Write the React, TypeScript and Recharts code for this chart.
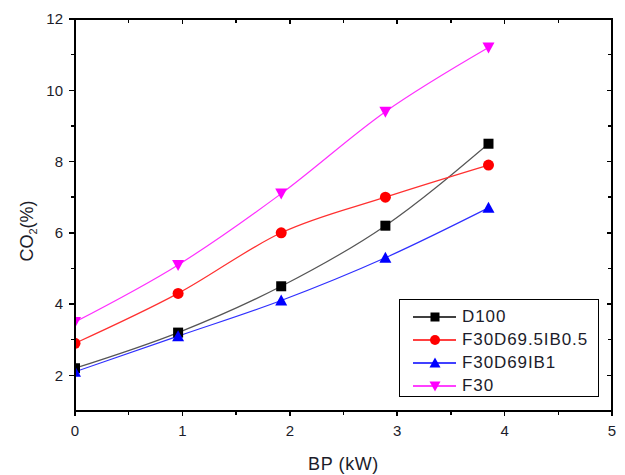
import React from "react";
import {
  LineChart,
  Line,
  XAxis,
  YAxis,
  Legend,
} from "recharts";

// BP (kW) for each measurement point
const bp = [0, 0.96, 1.92, 2.89, 3.85];

// CO2 (%) per fuel
const d100 = [2.2, 3.2, 4.5, 6.2, 8.5];
const f30d695ib05 = [2.9, 4.3, 6.0, 7.0, 7.9];
const f30d69ib1 = [2.1, 3.1, 4.1, 5.3, 6.7];
const f30 = [3.5, 5.1, 7.1, 9.4, 11.2];

const X_DOMAIN = [0, 5];
const Y_DOMAIN = [1, 12];
const xMajor = [0, 1, 2, 3, 4, 5];
const xMinor = [0.5, 1.5, 2.5, 3.5, 4.5];
const yMajor = [2, 4, 6, 8, 10, 12];
const yMinor = [3, 5, 7, 9, 11];

const W = 625;
const H = 475;
const MARGIN = { top: 19, right: 13, bottom: 0, left: 0 };
const X_AXIS_H = 64;
const Y_AXIS_W = 75;

const FONT = '"Liberation Sans", Arial, sans-serif';
const AXIS_COLOR = "#000";
const LABEL_COLOR = "#1c1c2a";

const data = bp.map((x, i) => ({
  bp: x,
  d100: d100[i],
  f30d695ib05: f30d695ib05[i],
  f30d69ib1: f30d69ib1[i],
  f30: f30[i],
}));

type Shape = "square" | "circle" | "triangle" | "triangleDown";

const SERIES: { key: string; name: string; color: string; line: string; shape: Shape }[] = [
  { key: "d100", name: "D100", color: "#000000", line: "#555555", shape: "square" },
  { key: "f30d695ib05", name: "F30D69.5IB0.5", color: "#ff0000", line: "#ff3030", shape: "circle" },
  { key: "f30d69ib1", name: "F30D69IB1", color: "#0000ff", line: "#3030ff", shape: "triangle" },
  { key: "f30", name: "F30", color: "#ff00ff", line: "#ff30ff", shape: "triangleDown" },
];

function Marker({ cx, cy, shape, color, size = 10 }: { cx: number; cy: number; shape: Shape; color: string; size?: number }) {
  const h = size / 2;
  if (shape === "square") {
    return <rect x={cx - h} y={cy - h} width={size} height={size} fill={color} />;
  }
  if (shape === "circle") {
    return <circle cx={cx} cy={cy} r={h + 0.5} fill={color} />;
  }
  if (shape === "triangle") {
    return (
      <polygon
        points={`${cx},${cy - h - 1} ${cx - h - 1},${cy + h} ${cx + h + 1},${cy + h}`}
        fill={color}
      />
    );
  }
  return (
    <polygon
      points={`${cx - h - 1},${cy - h} ${cx + h + 1},${cy - h} ${cx},${cy + h + 1}`}
      fill={color}
    />
  );
}

// plot box geometry, from the chart margins and axis sizes
const PLOT_X = MARGIN.left + Y_AXIS_W;
const PLOT_Y = MARGIN.top;
const PLOT_W = W - MARGIN.right - PLOT_X;
const PLOT_H = H - MARGIN.bottom - X_AXIS_H - PLOT_Y;

// Origin-style box with tick marks on all four sides, as plain HTML on top
function FrameOverlay() {
  const px = (v: number) => ((v - X_DOMAIN[0]) / (X_DOMAIN[1] - X_DOMAIN[0])) * PLOT_W;
  const py = (v: number) => PLOT_H - ((v - Y_DOMAIN[0]) / (Y_DOMAIN[1] - Y_DOMAIN[0])) * PLOT_H;
  const marks: React.ReactNode[] = [];
  const bar = (k: string, left: number, top: number, w: number, h: number) =>
    marks.push(
      <div
        key={k}
        style={{ position: "absolute", left, top, width: w, height: h, background: AXIS_COLOR }}
      />
    );
  xMajor.forEach((v) => {
    bar(`bM${v}`, px(v) - 0.75, PLOT_H, 1.5, 5);
    bar(`tM${v}`, px(v) - 0.75, 0, 1.5, 5);
  });
  xMinor.forEach((v) => {
    bar(`bm${v}`, px(v) - 0.75, PLOT_H, 1.5, 4);
    bar(`tm${v}`, px(v) - 0.75, 0, 1.5, 4);
  });
  yMajor.forEach((v) => {
    bar(`lM${v}`, -6, py(v) - 0.75, 6, 1.5);
    bar(`rM${v}`, PLOT_W - 5, py(v) - 0.75, 5, 1.5);
  });
  yMinor.forEach((v) => {
    bar(`lm${v}`, -4, py(v) - 0.75, 4, 1.5);
    bar(`rm${v}`, PLOT_W - 4, py(v) - 0.75, 4, 1.5);
  });
  return (
    <div
      style={{
        position: "absolute",
        left: PLOT_X,
        top: PLOT_Y,
        width: PLOT_W,
        height: PLOT_H,
        pointerEvents: "none",
        zIndex: 5,
      }}
    >
      <div
        style={{
          position: "absolute",
          left: -1,
          top: -1,
          width: PLOT_W + 2,
          height: PLOT_H + 2,
          boxSizing: "border-box",
          border: `2px solid ${AXIS_COLOR}`,
        }}
      />
      {marks}
    </div>
  );
}

function YTitle() {
  const cy = 231;
  return (
    <text
      x={33}
      y={cy}
      transform={`rotate(-90, 33, ${cy})`}
      textAnchor="middle"
      fontSize={18}
      fontFamily={FONT}
      fill={LABEL_COLOR}
    >
      CO
      <tspan fontSize={11} dy={4}>2</tspan>
      <tspan dy={-4}>(%)</tspan>
    </text>
  );
}

function XTitle({ viewBox }: any) {
  const cx = viewBox ? viewBox.x + viewBox.width / 2 : 343;
  return (
    <text x={cx} y={470} textAnchor="middle" fontSize={18} fontFamily={FONT} fill={LABEL_COLOR} letterSpacing={0.6}>
      BP (kW)
    </text>
  );
}

function LegendBox() {
  return (
    <div
      style={{
        boxSizing: "border-box",
        width: 200,
        height: 98,
        border: "1.5px solid #000",
        background: "#fff",
        padding: "5px 0 0 0",
      }}
    >
      {SERIES.map((s) => (
        <div key={s.key} style={{ display: "flex", alignItems: "center", height: 23 }}>
          <svg width={62} height={20} style={{ flex: "none" }}>
            <line x1={13} x2={56} y1={10} y2={10} stroke={s.color} strokeWidth={1.3} />
            <Marker cx={35} cy={10} shape={s.shape} color={s.color} size={9} />
          </svg>
          <span style={{ fontFamily: FONT, fontSize: 17, color: LABEL_COLOR, letterSpacing: 0.9 }}>
            {s.name}
          </span>
        </div>
      ))}
    </div>
  );
}

const tickStyle = { fontSize: 15, fontFamily: FONT, fill: LABEL_COLOR };

export default function App() {
  return (
    <div style={{ position: "absolute", left: 0, top: 0, width: W, height: H, background: "#fff" }}>
      <LineChart width={W} height={H} data={data} margin={MARGIN}>
        <XAxis
          dataKey="bp"
          type="number"
          domain={X_DOMAIN}
          ticks={xMajor}
          interval={0}
          allowDataOverflow
          height={X_AXIS_H}
          tickSize={0}
          tickMargin={14}
          tickLine={false}
          stroke={AXIS_COLOR}
          axisLine={{ stroke: AXIS_COLOR, strokeWidth: 1.8 }}
          tick={tickStyle}
          label={<XTitle />}
        />
        <YAxis
          type="number"
          domain={Y_DOMAIN}
          ticks={yMajor}
          interval={0}
          allowDataOverflow
          width={Y_AXIS_W}
          tickSize={0}
          tickMargin={12}
          tickLine={false}
          stroke={AXIS_COLOR}
          axisLine={{ stroke: AXIS_COLOR, strokeWidth: 1.8 }}
          tick={tickStyle}
          label={<YTitle />}
        />
        <Legend
          layout="horizontal"
          verticalAlign="middle"
          align="center"
          content={<LegendBox />}
          wrapperStyle={{ left: 399, top: 299, width: 200, height: 98, zIndex: 6 }}
        />
        {SERIES.map((s) => (
          <Line
            key={s.key}
            dataKey={s.key}
            name={s.name}
            type="monotone"
            stroke={s.line}
            strokeWidth={1.2}
            isAnimationActive={false}
            activeDot={false}
            dot={(p: any) => (
              <Marker key={`${s.key}-${p.index}`} cx={p.cx} cy={p.cy} shape={s.shape} color={s.color} />
            )}
          />
        ))}
      </LineChart>
      <FrameOverlay />
    </div>
  );
}
